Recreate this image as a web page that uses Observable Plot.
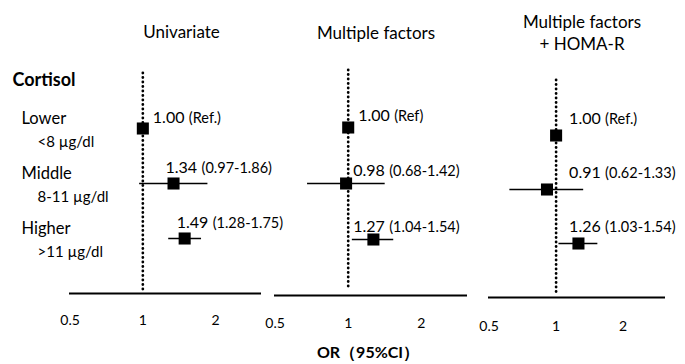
<!DOCTYPE html>
<html>
<head>
<meta charset="utf-8">
<script src="https://cdn.jsdelivr.net/npm/d3@7"></script>
<script src="https://cdn.jsdelivr.net/npm/@observablehq/plot@0.6"></script>
<style>
  html, body { margin: 0; padding: 0; background: #fff; }
  #chart { position: relative; width: 685px; height: 364px; overflow: hidden; }
  #chart svg { position: absolute; left: 0; top: 0; }
</style>
</head>
<body>
<div id="chart"></div>
<script>
// ---- data ----
const groupLabel = "Cortisol";
const rowGroups = ["Lower", "Middle", "Higher"];
const rowRanges = ["<8 µg/dl", "8-11 µg/dl", ">11 µg/dl"];
const panelTitles = ["Univariate", "Multiple factors", "Multiple factors\n+ HOMA-R"];
const orValues = [[1.00, 1.34, 1.49], [1.00, 0.98, 1.27], [1.00, 0.91, 1.26]];
const ciLow  = [[null, 0.97, 1.28], [null, 0.68, 1.04], [null, 0.62, 1.03]];
const ciHigh = [[null, 1.86, 1.75], [null, 1.42, 1.54], [null, 1.33, 1.54]];
const refLabels = ["(Ref.)", "(Ref)", "(Ref.)"];
const xTicks = [0.5, 1, 2];
const xTickLabels = ["0.5", "1", "2"];
const xDomain = [0.497, 3.1];
const axisTitle = "OR（95%CI）";
const AXIS_ROW = "—";

// ---- layout (positions / styles only) ----
const W = 685, H = 364;
const layouts = [
  {left: 69,  right: 261, top: 73, bottom: 293, inset: 55, dotGap: 0, titleDx: 16, titleDy: -43,
   atOR: true,  refDx: 10, refDy: -11, dx: -8, dy: -16, tickDy: 27},
  {left: 274, right: 467, top: 70, bottom: 295, inset: 57, dotGap: 5, titleDx: 5,  titleDy: -39,
   atOR: false, refDx: 10, refDy: -12, dx: 5,  dy: -13, tickDy: 28},
  {left: 488, right: 665, top: 80, bottom: 298, inset: 54, dotGap: 5, titleDx: 5,  titleDy: -49,
   atOR: false, refDx: 13, refDy: -17, dx: 13, dy: -17, tickDy: 28}
];
const FONT = "Lato, 'Open Sans', sans-serif";

const chart = document.getElementById("chart");

orValues.forEach((ors, p) => {
  const L = layouts[p];
  const rows = rowGroups.map((g, i) => ({
    group: g,
    or: ors[i],
    lo: ciLow[p][i],
    hi: ciHigh[p][i],
    ref: ciLow[p][i] == null,
    value: ors[i].toFixed(2),
    ci: ciLow[p][i] == null ? refLabels[p] : `(${ciLow[p][i].toFixed(2)}-${ciHigh[p][i].toFixed(2)})`
  }));
  const refRows = rows.filter(d => d.ref);
  const otherRows = rows.filter(d => !d.ref);
  const labelX = L.atOR ? (d => d.or) : (() => 1);

  const labelMarks = (data, dx, dy) => [
    Plot.text(data, {x: labelX, y: "group", text: "value", textAnchor: "start",
      dx: dx, dy: dy, fontSize: 16}),
    Plot.text(data, {x: labelX, y: "group", text: "ci", textAnchor: "start",
      dx: dx + 36, dy: dy + 0.5, fontSize: 14.5})
  ];

  const marks = [
    Plot.ruleX([1], {stroke: "black", strokeWidth: 2.8, strokeDasharray: "0 4.5",
      strokeLinecap: "round", insetBottom: L.dotGap}),
    Plot.ruleY([AXIS_ROW], {stroke: "black", strokeWidth: 2}),
    Plot.ruleY(otherRows, {y: "group", x1: "lo", x2: "hi", stroke: "black", strokeWidth: 1.6}),
    Plot.dot(rows, {x: "or", y: "group", symbol: "square", r: 6.8, fill: "black", stroke: "none"}),
    ...labelMarks(refRows, L.refDx, L.refDy),
    ...labelMarks(otherRows, L.dx, L.dy),
    // tick labels of the log x scale
    Plot.text(xTicks, {x: d => d, text: (d, i) => xTickLabels[i], frameAnchor: "bottom",
      lineAnchor: "middle", dy: L.tickDy, fontSize: 14}),
    Plot.text([panelTitles[p]], {frameAnchor: "top", lineAnchor: "middle", text: d => d,
      dx: L.titleDx, dy: L.titleDy, fontSize: 17, lineHeight: 1.3})
  ];

  if (p === 0) {
    marks.push(
      Plot.text([groupLabel], {frameAnchor: "top-left", lineAnchor: "middle", text: d => d,
        textAnchor: "start", dx: 12 - L.left, dy: 7, fontSize: 18, fontWeight: "bold"}),
      Plot.text(rowGroups, {y: d => d, text: d => d, frameAnchor: "left", textAnchor: "start",
        dx: 21 - L.left, dy: -10, fontSize: 16.5}),
      Plot.text(rowRanges, {y: (d, i) => rowGroups[i], text: d => d, frameAnchor: "left",
        textAnchor: "start", dx: 37 - L.left, dy: 13.5, fontSize: 15})
    );
  }
  if (p === 1) {
    marks.push(
      Plot.text([axisTitle], {frameAnchor: "bottom", lineAnchor: "middle", text: d => d,
        dx: -3, dy: 352 - L.bottom, fontSize: 16, fontWeight: "bold"})
    );
  }

  const svg = Plot.plot({
    width: W,
    height: H,
    marginLeft: L.left,
    marginRight: W - L.right,
    marginTop: L.top,
    marginBottom: H - L.bottom,
    insetTop: L.inset,
    x: {type: "log", domain: xDomain, axis: null},
    y: {type: "point", domain: [...rowGroups, AXIS_ROW], padding: 0, axis: null},
    style: {background: "transparent", overflow: "visible", fontFamily: FONT,
      fontSize: "14px", color: "black"},
    marks
  });
  chart.appendChild(svg);
});
</script>
</body>
</html>
